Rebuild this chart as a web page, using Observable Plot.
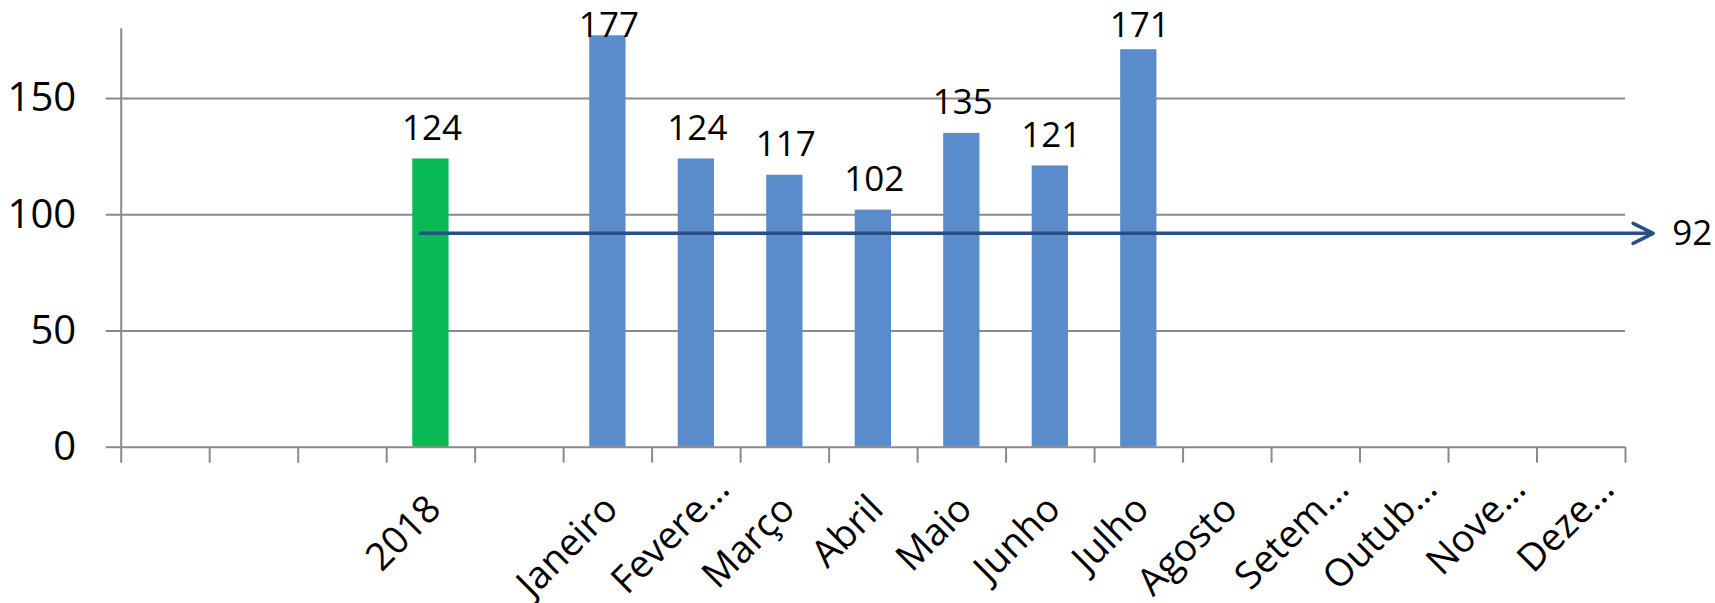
<!DOCTYPE html>
<html>
<head>
<meta charset="utf-8">
<script src="https://cdn.jsdelivr.net/npm/d3@7"></script>
<script src="https://cdn.jsdelivr.net/npm/@observablehq/plot@0.6"></script>
<style>
  html, body { margin: 0; padding: 0; background: #fff; }
  svg { display: block; }
</style>
</head>
<body>
<div id="chart"></div>
<script>
// Category slots along the x axis (Excel chart with blank slots)
const categories = ["", "", "", "2018", "", "Janeiro", "Fevereiro", "Março", "Abril", "Maio", "Junho", "Julho", "Agosto", "Setembro", "Outubro", "Novembro", "Dezembro"];
// Tick labels as displayed (truncated by the original chart)
const tickLabels = ["", "", "", "2018", "", "Janeiro", "Fevere…", "Março", "Abril", "Maio", "Junho", "Julho", "Agosto", "Setem…", "Outub…", "Nove…", "Deze…"];
// Bar values
const values = [null, null, null, 124, null, 177, 124, 117, 102, 135, 121, 171, null, null, null, null, null];
// Series of each slot: yearly total vs monthly
const seriesOf = ["", "", "", "ano", "", "mes", "mes", "mes", "mes", "mes", "mes", "mes", "mes", "mes", "mes", "mes", "mes"];
// Reference (mean) line
const meanValue = 92;
const meanStartCategory = "2018";
// Y axis ticks
const yTicks = [0, 50, 100, 150];
const yMax = 180;

const n = categories.length;
const rows = categories.map((c, i) => ({i, cat: c, label: tickLabels[i], v: values[i], s: seriesOf[i]}));
const bars = rows.filter(d => d.v != null);
const fullLabels = rows.filter(d => d.label && !d.label.endsWith("…"));
const truncLabels = rows.filter(d => d.label && d.label.endsWith("…"));
const startIdx = categories.indexOf(meanStartCategory);

const gridColor = "#8a8a8a";
const green = "#08b955";
const blue = "#5a8bca";
const lineColor = "#2a4f86";

const chart = Plot.plot({
  width: 1715,
  height: 603,
  marginLeft: 120.7,
  marginRight: 90,
  marginTop: 28.3,
  marginBottom: 156.3,
  style: {fontFamily: "'Open Sans', 'Noto Sans', sans-serif", background: "#fff", color: "#000"},
  x: {type: "linear", domain: [0, n], axis: null},
  y: {domain: [0, yMax], axis: null},
  marks: [
    Plot.gridY(yTicks.filter(t => t > 0), {stroke: gridColor, strokeOpacity: 1, strokeWidth: 2}),
    Plot.rectY(bars, {
      x1: d => d.i + 0.295,
      x2: d => d.i + 0.705,
      y1: 0,
      y2: "v",
      fill: d => d.s === "ano" ? green : blue
    }),
    Plot.ruleY([0], {stroke: gridColor, strokeWidth: 2}),
    Plot.ruleX([0], {stroke: gridColor, strokeWidth: 2}),
    Plot.axisY({ticks: yTicks, tickSize: 15, tickPadding: 30, fontSize: 40, stroke: gridColor, strokeWidth: 2, label: null}),
    Plot.axisX({ticks: d3.range(n + 1), tickSize: 16, fill: "none", stroke: gridColor, strokeWidth: 2, label: null}),
    Plot.text(fullLabels, {
      x: d => d.i + 0.5, text: "label", frameAnchor: "bottom",
      rotate: -45, textAnchor: "end", lineAnchor: "bottom",
      dx: 12, dy: 64, fontSize: 38, fill: "#000"
    }),
    Plot.text(truncLabels, {
      x: d => d.i + 0.5, text: "label", frameAnchor: "bottom",
      rotate: -45, textAnchor: "end", lineAnchor: "bottom",
      dx: 35, dy: 44, fontSize: 38, fill: "#000"
    }),
    Plot.text(bars, {
      x: d => d.i + 0.5,
      y: d => Math.min(d.v, 168.5),
      text: d => String(d.v),
      dy: -19, dx: 1, lineAnchor: "bottom", fontSize: 35, fill: "#000"
    }),
    Plot.arrow([meanValue], {
      x1: () => startIdx + 0.382,
      x2: () => n + 0.313,
      y1: d => d, y2: d => d,
      stroke: lineColor, strokeWidth: 3.5, headLength: 9.6, headAngle: 53
    }),
    Plot.text([meanValue], {
      x: () => n + 0.313, y: d => d, text: d => String(d),
      dx: 19, textAnchor: "start", lineAnchor: "middle", fontSize: 35, fill: "#000"
    })
  ]
});
document.getElementById("chart").appendChild(chart);
</script>
</body>
</html>
